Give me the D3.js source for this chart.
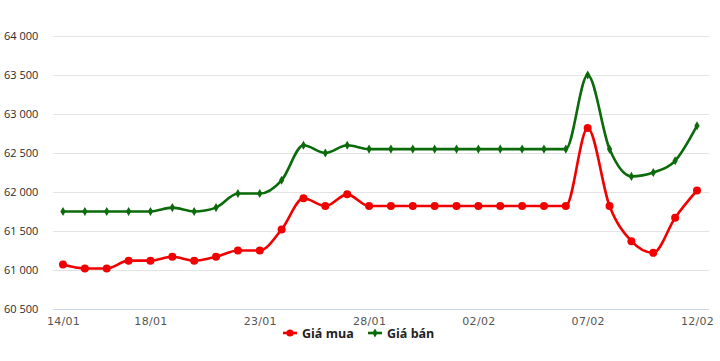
<!DOCTYPE html>
<html><head><meta charset="utf-8">
<script src="https://cdn.jsdelivr.net/npm/d3@7"></script>
<style>body{margin:0;background:#fff}svg{display:block}</style>
</head><body>
<svg id="c" width="720" height="361"></svg>
<script>
const dates = ["14/01","15/01","16/01","17/01","18/01","19/01","20/01","21/01","22/01","23/01","24/01","25/01","26/01","27/01","28/01","29/01","30/01","31/01","01/02","02/02","03/02","04/02","05/02","06/02","07/02","08/02","09/02","10/02","11/02","12/02"];
const tickLabels = ["14/01","18/01","23/01","28/01","02/02","07/02","12/02"];
const giaMua = [61070,61020,61020,61120,61120,61170,61120,61170,61250,61250,61520,61920,61820,61970,61820,61820,61820,61820,61820,61820,61820,61820,61820,61820,62820,61820,61370,61220,61670,62020];
const giaBan = [61750,61750,61750,61750,61750,61800,61750,61800,61980,61980,62150,62600,62500,62600,62550,62550,62550,62550,62550,62550,62550,62550,62550,62550,63500,62550,62200,62250,62400,62850];
const yTicks = [60500,61000,61500,62000,62500,63000,63500,64000];

const svg = d3.select("#c");
const x = d3.scalePoint().domain(dates).range([63, 697]);
const y = d3.scaleLinear().domain([60500, 64000]).range([309, 36]);
const fmt = v => d3.format(",")(v).replace(/,/g, " ");

// grid
svg.append("g").selectAll("line").data(yTicks).join("line")
  .attr("x1", 53).attr("x2", 709)
  .attr("y1", d => Math.round(y(d)) + 0.5).attr("y2", d => Math.round(y(d)) + 0.5)
  .attr("stroke", d => d === 60500 ? "#ccd6eb" : "#e3e3e3").attr("stroke-width", 1);

// y labels
svg.append("g").selectAll("text").data(yTicks).join("text")
  .attr("x", 4).attr("y", d => y(d) + 4)
  .attr("font-family", "Open Sans, sans-serif").attr("font-size", 11).attr("fill", "#2a2a2a")
  .text(fmt);

// x axis labels
const xAxis = d3.axisBottom(x).tickValues(tickLabels).tickSize(0).tickPadding(0);
const gx = svg.append("g").attr("transform", "translate(0,317)").call(xAxis);
gx.select(".domain").remove();
gx.selectAll("text").attr("font-family", "DejaVu Sans, sans-serif").attr("font-size", 11)
  .attr("fill", "#555").attr("dy", "0.71em").attr("letter-spacing", "0.3px");

const line = d3.line().x((d, i) => x(dates[i])).y(d => y(d)).curve(d3.curveMonotoneX);

const series = [
  {name: "Giá mua", data: giaMua, color: "#f00000", marker: "circle"},
  {name: "Giá bán", data: giaBan, color: "#0b6b0b", marker: "diamond"}
];

series.forEach(s => {
  svg.append("path").datum(s.data).attr("d", line)
    .attr("fill", "none").attr("stroke", s.color).attr("stroke-width", 2.6)
    .attr("stroke-linejoin", "round");
  const sym = s.marker === "circle" ? d3.symbol(d3.symbolCircle, 50) : d3.symbol(d3.symbolDiamond, 24);
  svg.append("g").selectAll("path").data(s.data).join("path")
    .attr("transform", (d, i) => `translate(${x(dates[i])},${y(d)})`)
    .attr("d", sym).attr("fill", s.color);
});

// legend
const leg = [{s: series[0], x: 283}, {s: series[1], x: 368}];
leg.forEach(l => {
  const g = svg.append("g").attr("transform", `translate(${l.x},333)`);
  g.append("line").attr("x1", 0).attr("x2", 14).attr("stroke", l.s.color).attr("stroke-width", 2.6);
  g.append("path").attr("transform", "translate(7,0)")
    .attr("d", l.s.marker === "circle" ? d3.symbol(d3.symbolCircle, 40)() : d3.symbol(d3.symbolDiamond, 24)())
    .attr("fill", l.s.color);
  g.append("text").attr("x", 19).attr("y", 4.5)
    .attr("font-family", "Open Sans, sans-serif").attr("font-size", 12.5).attr("font-weight", "bold")
    .attr("fill", "#222").text(l.s.name);
});
</script>
</body></html>
